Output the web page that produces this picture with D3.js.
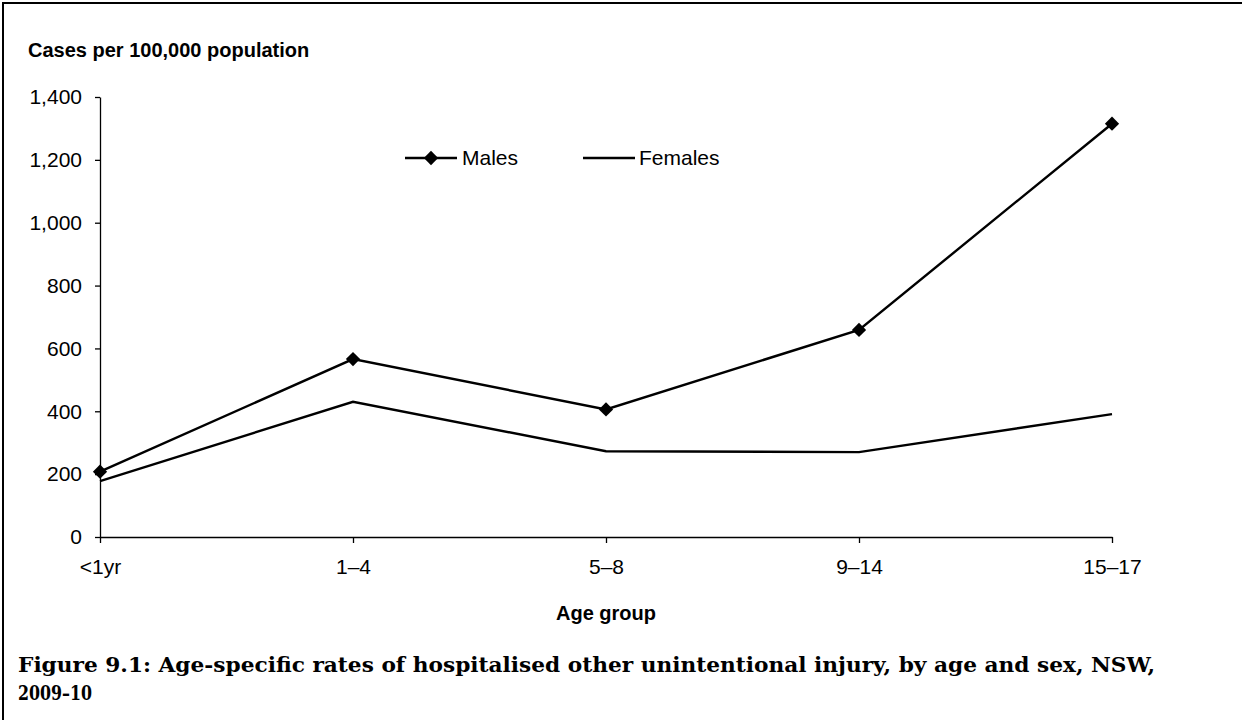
<!DOCTYPE html>
<html>
<head>
<meta charset="utf-8">
<script src="https://cdn.jsdelivr.net/npm/d3@7"></script>
<style>
  body { margin: 0; background: #fff; }
  svg { display: block; }
</style>
</head>
<body>
<div class="chart_area"></div>
<script>
// data
var ageGroups = ["<1yr", "1–4", "5–8", "9–14", "15–17"];
var males = [208, 566, 406, 659, 1315];
var females = [178, 430, 273, 270, 391];
var yTicks = [0, 200, 400, 600, 800, 1000, 1200, 1400];

var W = 1242, H = 720;
var margin = {top: 97, right: 130, bottom: 183, left: 100},
    width = W - margin.left - margin.right,
    height = H - margin.top - margin.bottom;

var sans = "Arial, 'Liberation Sans', sans-serif";

var svg = d3.select(".chart_area").append("svg")
    .attr("width", W)
    .attr("height", H);

// frame: only top and left edges show
svg.append("line").attr("x1", 3).attr("x2", W).attr("y1", 3).attr("y2", 3)
  .attr("stroke", "#000").attr("stroke-width", 2);
svg.append("line").attr("x1", 3).attr("x2", 3).attr("y1", 2).attr("y2", H)
  .attr("stroke", "#000").attr("stroke-width", 2);

var g = svg.append("g")
    .attr("transform", "translate(" + margin.left + "," + margin.top + ")");

var x = d3.scalePoint()
    .domain(ageGroups)
    .range([0, width]);

var y = d3.scaleLinear()
    .domain([0, 1400])
    .range([height, 0]);

// y axis
var yAxis = g.append("g")
    .call(d3.axisLeft(y).tickValues(yTicks).tickSize(5).tickSizeOuter(0)
      .tickFormat(d3.format(",")));
yAxis.selectAll("text")
    .attr("x", -18)
    .style("font-family", sans)
    .style("font-size", "21px")
    .style("fill", "#000");

// x axis
var xAxis = g.append("g")
    .attr("transform", "translate(0," + height + ")")
    .call(d3.axisBottom(x).tickSize(6).tickSizeOuter(0));
xAxis.selectAll("text")
    .attr("y", 22)
    .style("font-family", sans)
    .style("font-size", "21px")
    .style("fill", "#000");

g.selectAll(".domain, .tick line").attr("stroke", "#000").attr("stroke-width", 1.3);

// lines
var line = d3.line()
    .x(function(d, i) { return x(ageGroups[i]); })
    .y(function(d) { return y(d); });

g.append("path").datum(females)
    .attr("d", line).attr("fill", "none")
    .attr("stroke", "#000").attr("stroke-width", 2.4);

g.append("path").datum(males)
    .attr("d", line).attr("fill", "none")
    .attr("stroke", "#000").attr("stroke-width", 2.4);

var diamond = d3.symbol().type(d3.symbolDiamond2).size(130);
g.selectAll(".male-pt")
    .data(males)
  .enter().append("path")
    .attr("class", "male-pt")
    .attr("d", diamond)
    .attr("transform", function(d, i) { return "translate(" + x(ageGroups[i]) + "," + y(d) + ")"; })
    .attr("fill", "#000");

// legend
var legend = svg.append("g");
legend.append("line").attr("x1", 405).attr("x2", 457).attr("y1", 158).attr("y2", 158)
  .attr("stroke", "#000").attr("stroke-width", 2.4);
legend.append("path").attr("d", diamond).attr("transform", "translate(431,158)").attr("fill", "#000");
legend.append("text").attr("x", 462).attr("y", 165).text("Males")
  .style("font-family", sans).style("font-size", "21px");
legend.append("line").attr("x1", 583).attr("x2", 635).attr("y1", 158).attr("y2", 158)
  .attr("stroke", "#000").attr("stroke-width", 2.4);
legend.append("text").attr("x", 639).attr("y", 165).text("Females")
  .style("font-family", sans).style("font-size", "21px");

// axis titles
svg.append("text").attr("x", 28).attr("y", 57).text("Cases per 100,000 population")
  .style("font-family", sans)
  .style("font-size", "20px").style("font-weight", "bold");

svg.append("text").attr("x", 606).attr("y", 620).attr("text-anchor", "middle").text("Age group")
  .style("font-family", sans)
  .style("font-size", "20px").style("font-weight", "bold");

// caption
var cap = svg.append("text")
  .style("font-family", "'DejaVu Serif', 'Liberation Serif', serif")
  .style("font-size", "20px").style("font-weight", "bold");
cap.append("tspan").attr("x", 18).attr("y", 672)
  .attr("textLength", 1137).attr("lengthAdjust", "spacingAndGlyphs")
  .text("Figure 9.1: Age-specific rates of hospitalised other unintentional injury, by age and sex, NSW,");
cap.append("tspan").attr("x", 18).attr("y", 700)
  .attr("textLength", 74).attr("lengthAdjust", "spacingAndGlyphs")
  .text("2009–10");
</script>
</body>
</html>
